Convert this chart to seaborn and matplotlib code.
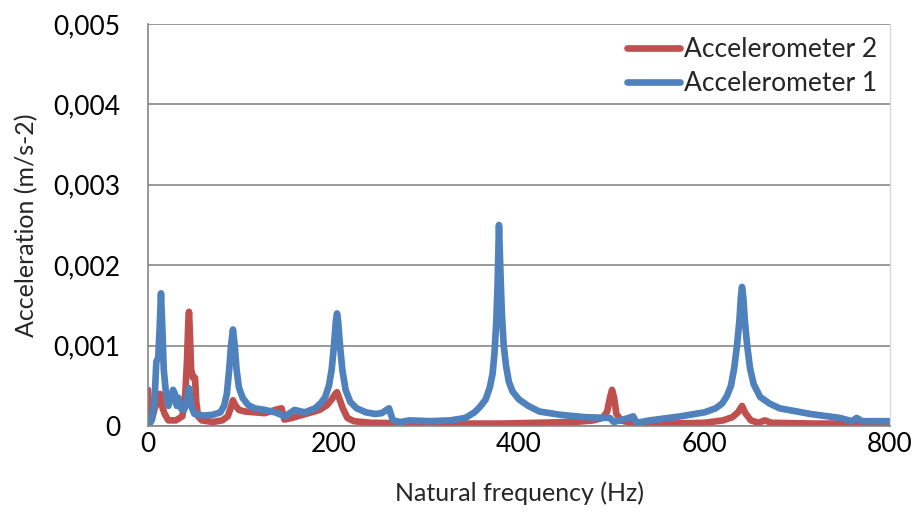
import numpy as np
import pandas as pd
import matplotlib
matplotlib.use("Agg")
import matplotlib.pyplot as plt
import seaborn as sns
from matplotlib.ticker import FuncFormatter

# Accelerometer 1 (blue)
freq_acc1 = [0, 4, 7, 9, 11, 12.5, 14, 15.5, 17, 19, 22, 25, 27, 29, 31, 33, 35.5, 38.8,
             42, 44.2, 46.5, 50, 60, 70, 78, 82, 85, 87.5, 89.5, 91.6, 93.5, 95.5, 98, 102,
             108, 115, 126, 137, 147.7, 158, 169, 180, 186, 191, 195, 198, 200.5, 202.5,
             203.8, 205, 207, 209.5, 213, 218, 225, 235, 245, 252, 259.8, 264, 272, 282,
             304, 326, 342, 352, 358, 364, 368.5, 371.5, 373.5, 375.5, 377, 378.4, 380,
             381.5, 383.5, 386, 389, 393, 400, 410, 422, 444, 471, 498, 502, 509, 518, 523,
             527, 541, 574, 600, 612, 619, 624, 628.5, 632, 635, 637.5, 639.2, 640.4, 641.8,
             643.5, 646, 649, 653, 660, 670, 681, 714, 746, 759, 764, 770, 800]
acc1 = [0.0, 0.00007, 0.0003, 0.0008, 0.00085, 0.0012, 0.00165, 0.0012, 0.0007, 0.00045,
        0.00025, 0.00035, 0.00045, 0.0004, 0.00025, 0.00035, 0.00022, 0.0002, 0.0003,
        0.00047, 0.00025, 0.00015, 0.00013, 0.00014, 0.00017, 0.00025, 0.0004, 0.0007,
        0.001, 0.0012, 0.001, 0.0007, 0.00048, 0.00035, 0.00026, 0.00022, 0.0002, 0.00017,
        0.00012, 0.0002, 0.00017, 0.00022, 0.00028, 0.00036, 0.0005, 0.0007, 0.001, 0.0013,
        0.0014, 0.0013, 0.001, 0.0007, 0.00045, 0.0003, 0.00022, 0.00017, 0.00015, 0.00016,
        0.00022, 0.00007, 0.00005, 0.00007, 0.00006, 0.00007, 0.0001, 0.00017, 0.00024,
        0.00033, 0.00048, 0.00065, 0.0009, 0.0013, 0.0018, 0.0025, 0.0019, 0.0014, 0.001,
        0.00075, 0.00055, 0.00043, 0.00033, 0.00025, 0.00018, 0.00014, 0.00011, 0.0001,
        0.00005, 0.00007, 0.0001, 0.00012, 0.00004, 0.00007, 0.00012, 0.00017, 0.00022,
        0.00028, 0.00037, 0.0005, 0.00072, 0.001, 0.0013, 0.0016, 0.00173, 0.0016, 0.0013,
        0.001, 0.00072, 0.00052, 0.00036, 0.00028, 0.00022, 0.00015, 0.0001, 0.00006,
        0.0001, 0.00006, 0.00006]

# Accelerometer 2 (red)
freq_acc2 = [0, 1.5, 4, 8, 11, 13, 15, 18, 22, 30, 37, 40, 42, 43.5, 44.2, 45, 46.5, 48.5,
             50.7, 52, 54, 58, 70, 80, 86, 89, 91.6, 94, 98, 105, 115, 126, 137, 144, 147,
             155, 170, 185, 193, 198, 202, 203.8, 206, 210, 215, 222, 240, 300, 380, 420,
             460, 480, 490, 495, 498, 500.3, 502.5, 505, 510, 520, 560, 600, 620, 630, 636,
             640.4, 644, 650, 658, 665, 672, 720, 800]
acc2 = [0.00045, 0.00015, 0.00008, 0.00025, 0.00035, 0.0004, 0.00025, 0.00015, 0.00007,
        0.00007, 0.00012, 0.00035, 0.0008, 0.0013, 0.00142, 0.0012, 0.0007, 0.0006, 0.0006,
        0.0003, 0.00012, 0.00007, 0.00005, 0.00007, 0.00012, 0.00022, 0.00032, 0.00026,
        0.0002, 0.00018, 0.00017, 0.00016, 0.0002, 0.00022, 0.00008, 0.0001, 0.00015,
        0.0002, 0.00026, 0.00033, 0.0004, 0.00042, 0.00035, 0.00022, 0.0001, 0.00006,
        0.00004, 0.00003, 0.00003, 0.00004, 0.00005, 0.00007, 0.0001, 0.00018, 0.00035,
        0.00045, 0.00035, 0.00015, 0.00007, 0.00004, 0.00003, 0.00004, 0.00007, 0.00011,
        0.00017, 0.00025, 0.00016, 0.00007, 0.00004, 0.00007, 0.00004, 0.00003, 0.00003]

labels = ["Accelerometer 2", "Accelerometer 1"]
colors = {"Accelerometer 2": "#C0504D", "Accelerometer 1": "#4F81BD"}

df = pd.concat([
    pd.DataFrame({"freq": freq_acc2, "acc": acc2, "series": labels[0]}),
    pd.DataFrame({"freq": freq_acc1, "acc": acc1, "series": labels[1]}),
])

sns.set_style("white")
plt.rcParams["font.family"] = ["Lato", "DejaVu Sans"]

fig = plt.figure(figsize=(9.17, 5.22), dpi=100)
ax = fig.add_axes([0.1614, 0.1839, 0.8092, 0.7701])

sns.lineplot(data=df, x="freq", y="acc", hue="series", hue_order=labels,
             palette=colors, linewidth=4.8, ax=ax, sort=False, estimator=None)
for ln in ax.get_lines():
    ln.set_solid_joinstyle("round")
    ln.set_solid_capstyle("round")

ax.set_xlim(0, 800)
ax.set_ylim(0, 0.005)
ax.set_xticks([0, 200, 400, 600, 800])
ax.set_yticks([0, 0.001, 0.002, 0.003, 0.004, 0.005])
ax.yaxis.set_major_formatter(FuncFormatter(
    lambda v, p: "0" if abs(v) < 1e-12 else f"{v:.3f}".replace(".", ",")))
ax.tick_params(axis="both", length=0, labelsize=19, colors="#000000")
ax.tick_params(axis="y", pad=20)
ax.tick_params(axis="x", pad=4)
ax.grid(axis="y", color="#868686", linewidth=1.2)
ax.set_axisbelow(True)

ax.spines["top"].set_visible(False)
ax.spines["left"].set_color("#868686")
ax.spines["left"].set_linewidth(1.2)
ax.spines["bottom"].set_color("#868686")
ax.spines["bottom"].set_linewidth(1.2)
ax.spines["right"].set_color("#D9D9D9")
ax.spines["right"].set_linewidth(1.0)

ax.set_xlabel("Natural frequency (Hz)", fontsize=18, labelpad=18)
ax.set_ylabel("Acceleration (m/s-2)", fontsize=18, labelpad=11)

leg = ax.legend(loc="upper right", frameon=False, fontsize=19, handlelength=2.0,
                handletextpad=0.15, borderaxespad=0.1, labelspacing=0.35)
for line in leg.get_lines():
    line.set_linewidth(4.8)

fig.savefig("out.png", dpi=100)
